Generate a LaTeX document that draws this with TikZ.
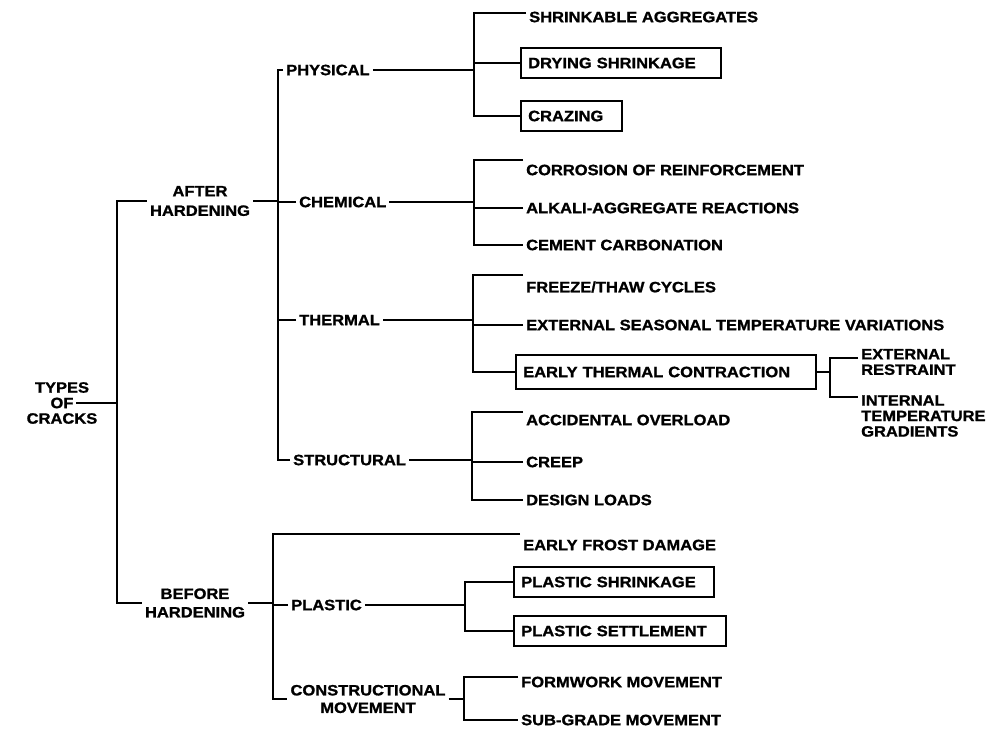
\documentclass[tikz,border=0pt]{standalone}
\usepackage{fontspec}
\setmainfont{Liberation Sans}[FakeStretch=1.1,BoldFeatures={FakeBold=1.2}]
\begin{document}
\begin{tikzpicture}[x=1pt,y=-1pt,line width=2.4pt,
    lbl/.style={inner sep=2pt,font=\bfseries\fontsize{15}{15.5}\selectfont},
    lblw/.style={lbl,anchor=west},
    boxed/.style={lbl,anchor=west,draw,inner xsep=7pt,minimum height=30pt,align=left}]
                \useasboundingbox (0,0) rectangle (987,731);
                % spines of the brackets
                \coordinate (sRoot) at (117,0);
                \coordinate (sAft) at (278,0);
                \coordinate (sBef) at (273,0);
                \coordinate (sPhy) at (474,0);
                \coordinate (sChe) at (474,0);
                \coordinate (sThe) at (473,0);
                \coordinate (sStr) at (472,0);
                \coordinate (sEtc) at (830,0);
                \coordinate (sPla) at (465,0);
                \coordinate (sCon) at (464,0);
                % first levels
                \node[lbl,align=center] (types) at (62,403) {TYPES\\OF\\CRACKS};
                \node[lbl,align=center] (after) at (200,201) {AFTER\\[4pt]HARDENING};
                \node[lbl,align=center] (before) at (195,603) {BEFORE\\[3pt]HARDENING};
                \node[lblw] (phys) at (283,70) {PHYSICAL};
                \node[lblw] (chem) at (296,202) {CHEMICAL};
                \node[lblw] (therm) at (296,320) {THERMAL};
                \node[lblw] (struct) at (290,460) {STRUCTURAL};
                \node[lblw] (plast) at (288,605) {PLASTIC};
                \node[lbl,align=center] (constr) at (368,699) {CONSTRUCTIONAL\\[2pt]MOVEMENT};
                % leaves
                \node[lblw] (shrink) at (526,17) {SHRINKABLE AGGREGATES};
                \node[boxed,text width=186pt] (dry) at (520,63) {DRYING SHRINKAGE};
                \node[boxed,text width=87pt] (craz) at (520,116) {CRAZING};
                \node[lblw] (corr) at (523,170) {CORROSION OF REINFORCEMENT};
                \node[lblw] (alk) at (523,208) {ALKALI-AGGREGATE REACTIONS};
                \node[lblw] (cem) at (523,245) {CEMENT CARBONATION};
                \node[lblw] (frz) at (523,287) {FREEZE/THAW CYCLES};
                \node[lblw] (ext) at (523,325) {EXTERNAL SEASONAL TEMPERATURE VARIATIONS};
                \node[boxed,text width=286pt,minimum height=34pt] (etc) at (515,372) {EARLY THERMAL CONTRACTION};
                \node[lblw,align=left] (extr) at (858,362) {EXTERNAL\\RESTRAINT};
                \node[lblw,align=left] (intg) at (858,416) {INTERNAL\\TEMPERATURE\\GRADIENTS};
                \node[lblw] (acc) at (523,420) {ACCIDENTAL OVERLOAD};
                \node[lblw] (creep) at (523,462) {CREEP};
                \node[lblw] (des) at (523,500) {DESIGN LOADS};
                \node[lblw] (frost) at (520,545) {EARLY FROST DAMAGE};
                \node[boxed,text width=186pt] (pshr) at (513,582) {PLASTIC SHRINKAGE};
                \node[boxed,text width=198pt] (pset) at (513,631) {PLASTIC SETTLEMENT};
                \node[lblw] (form) at (518,682) {FORMWORK MOVEMENT};
                \node[lblw] (sub) at (518,720) {SUB-GRADE MOVEMENT};
                % root bracket
                \draw ([xshift=14pt]types.center) -- (types.center -| sRoot);
                \draw (after.west) -- (after.west -| sRoot) -- (before.west -| sRoot) -- (before.west);
                % after hardening
                \draw (after.east) -- (after.east -| sAft);
                \draw (phys.west) -- (phys.west -| sAft) -- (struct.west -| sAft) -- (struct.west);
                \draw (chem.west) -- (chem.west -| sAft);
                \draw (therm.west) -- (therm.west -| sAft);
                \draw (phys.east) -- (phys.east -| sPhy);
                \draw ([yshift=4pt]shrink.west) -- ([yshift=4pt]shrink.west -| sPhy) -- (craz.west -| sPhy) -- (craz.west);
                \draw (dry.west) -- (dry.west -| sPhy);
                \draw (chem.east) -- (chem.east -| sChe);
                \draw ([yshift=10pt]corr.west) -- ([yshift=10pt]corr.west -| sChe) -- (cem.west -| sChe) -- (cem.west);
                \draw (alk.west) -- (alk.west -| sChe);
                \draw (therm.east) -- (therm.east -| sThe);
                \draw ([yshift=12pt]frz.west) -- ([yshift=12pt]frz.west -| sThe) -- (etc.west -| sThe) -- (etc.west);
                \draw (ext.west) -- (ext.west -| sThe);
                \draw (etc.east) -- (etc.east -| sEtc);
                \draw ([yshift=4pt]extr.west) -- ([yshift=4pt]extr.west -| sEtc) -- ([yshift=19pt]intg.west -| sEtc) -- ([yshift=19pt]intg.west);
                \draw (struct.east) -- (struct.east -| sStr);
                \draw ([yshift=8pt]acc.west) -- ([yshift=8pt]acc.west -| sStr) -- (des.west -| sStr) -- (des.west);
                \draw (creep.west) -- (creep.west -| sStr);
                % before hardening
                \draw (before.east) -- (before.east -| sBef);
                \draw ([yshift=11pt]frost.west) -- ([yshift=11pt]frost.west -| sBef) -- (constr.west -| sBef) -- (constr.west);
                \draw (plast.west) -- (plast.west -| sBef);
                \draw (plast.east) -- (plast.east -| sPla);
                \draw (pshr.west) -- (pshr.west -| sPla) -- (pset.west -| sPla) -- (pset.west);
                \draw (constr.east) -- (constr.east -| sCon);
                \draw ([yshift=5pt]form.west) -- ([yshift=5pt]form.west -| sCon) -- (sub.west -| sCon) -- (sub.west);
            \end{tikzpicture}
\end{document}
